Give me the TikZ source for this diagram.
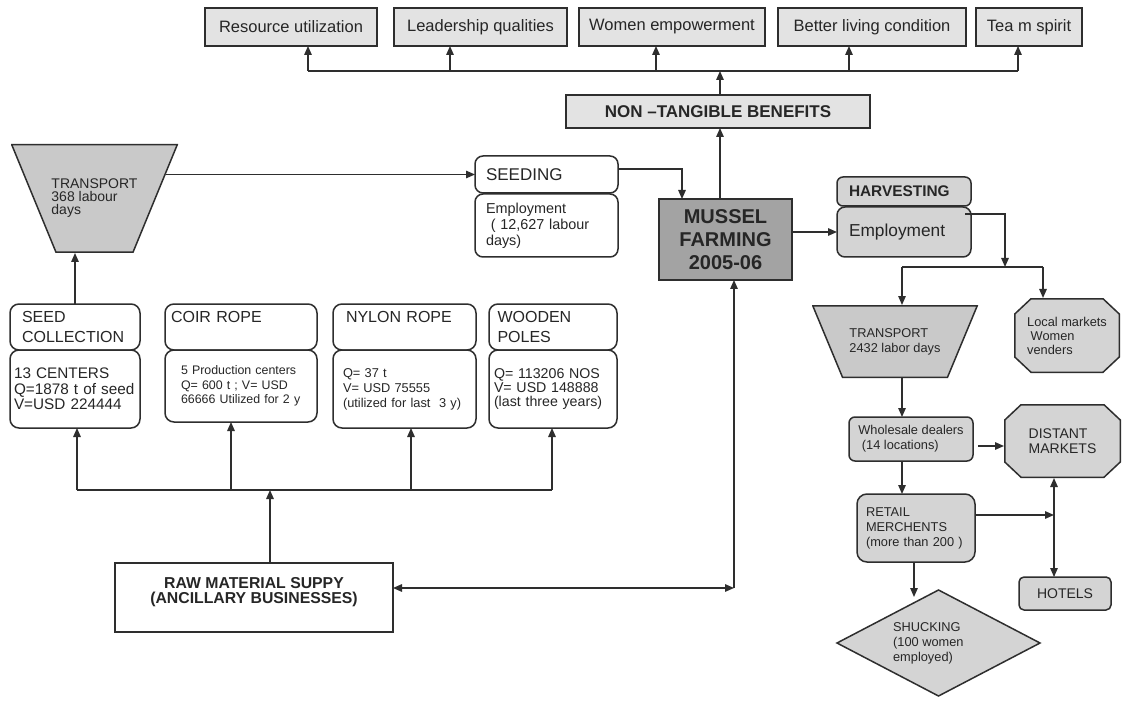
\documentclass[tikz,border=0pt]{standalone}
\usepackage{fontspec}
\setmainfont{Liberation Sans}
\usetikzlibrary{arrows.meta,shapes.geometric,positioning}

\definecolor{inkgray}{gray}{0.18}
\definecolor{lightfill}{gray}{0.89}
\definecolor{midfill}{gray}{0.83}
\definecolor{funnelfill}{gray}{0.79}
\definecolor{darkfill}{gray}{0.64}

\newcommand{\fsz}[2]{\fontsize{#1}{#2}\selectfont}

\begin{document}
\begin{tikzpicture}[
        x=1pt, y=-1pt, color=inkgray,
        >={Triangle[length=9pt,width=7.5pt]},
        every node/.style={draw=inkgray, line width=1.5pt, inner sep=0pt, outer sep=0pt, text=black!85},
        every path/.style={line width=1.4pt},
        benefit/.style={fill=lightfill, font=\fsz{16.5}{19}, minimum height=38pt},
        plainbox/.style={rounded corners=9pt, fill=white, align=left},
        grayround/.style={rounded corners=7pt, fill=midfill, align=left},
        funnel/.style={draw=none, fill=white, align=left, path picture={
            \draw[fill=funnelfill, line width=1.5pt]
              ([shift={(0.75pt,-0.75pt)}]path picture bounding box.north west) --
              ([shift={(-0.75pt,-0.75pt)}]path picture bounding box.north east) --
              ([shift={(-#1,0.75pt)}]path picture bounding box.south east) --
              ([shift={(#1,0.75pt)}]path picture bounding box.south west) -- cycle;}},
        market/.style={draw=none, fill=white, align=left, path picture={
            \draw[fill=midfill, line width=1.5pt]
              ([shift={(17pt,-0.75pt)}]path picture bounding box.north west) --
              ([shift={(-17pt,-0.75pt)}]path picture bounding box.north east) --
              ([shift={(-0.75pt,-16pt)}]path picture bounding box.north east) --
              ([shift={(-0.75pt,16pt)}]path picture bounding box.south east) --
              ([shift={(-17pt,0.75pt)}]path picture bounding box.south east) --
              ([shift={(17pt,0.75pt)}]path picture bounding box.south west) --
              ([shift={(0.75pt,16pt)}]path picture bounding box.south west) --
              ([shift={(0.75pt,-16pt)}]path picture bounding box.north west) -- cycle;}}
    ]

    \fill[white] (0,0) rectangle (1140,711);
    \useasboundingbox (0,0) rectangle (1140,711);

    % Benefits
    \node[benefit, minimum width=172pt] (resource) at (291,27) {Resource utilization};
    \node[benefit, minimum width=173pt] (leader) at (480.5,27) {Leadership qualities};
    \node[benefit, minimum width=186pt] (women) at (672,27) {Women empowerment};
    \node[benefit, minimum width=188pt] (living) at (872,27) {Better living condition};
    \node[benefit, minimum width=106pt] (team) at (1029,27) {Tea m spirit};
    \node[benefit, font=\bfseries\fsz{17}{20}, minimum width=304pt, minimum height=33pt] (nontb) at (718,111.5) {NON –TANGIBLE BENEFITS};

    % Farm
    \node[fill=darkfill, font=\bfseries\fsz{20}{23}, align=center, minimum width=133pt, minimum height=81pt] (mussel) at (725.5,239.5) {MUSSEL\\FARMING\\2005-06};

    \node[plainbox, rounded corners=8pt, font=\fsz{17}{19}, text width=121pt, minimum width=143pt, minimum height=37pt] (seedhd) at (546.5,174.5) {SEEDING};
    \node[plainbox, rounded corners=8pt, font=\fsz{14.4}{16}, text width=121pt, minimum width=143pt, minimum height=63pt] (seedemp) at (546.5,225.5) {Employment\\\ ( 12,627 labour\\days)};

    \node[grayround, rounded corners=6pt, font=\bfseries\fsz{15.4}{18}, text width=110pt, minimum width=134pt, minimum height=29pt] (harvhd) at (904,191.5) {HARVESTING};
    \node[grayround, rounded corners=8pt, font=\fsz{17.3}{20}, text width=110pt, minimum width=134pt, minimum height=50pt] (harvemp) at (904,232) {Employment};

    \node[funnel=45pt, font=\fsz{14}{13}, minimum width=167pt, minimum height=109pt] (transL) at (94.5,198.5) {TRANSPORT\\368 labour\\days};

    % Ancillary inputs
    \node[plainbox, font=\fsz{16}{20}, text width=106pt, minimum width=130pt, minimum height=46pt] (seedcol) at (75,327) {SEED\\COLLECTION};
    \node[plainbox, font=\fsz{16}{20}, text width=140pt, minimum width=152pt, minimum height=46pt] (coirhd) at (241,327) {COIR ROPE\\\mbox{}};
    \node[plainbox, font=\fsz{16}{20}, text width=117pt, minimum width=143pt, minimum height=46pt] (nylonhd) at (404.5,327) {NYLON ROPE\\\mbox{}};
    \node[plainbox, font=\fsz{16}{20}, text width=111pt, minimum width=128pt, minimum height=46pt] (woodhd) at (553,327) {WOODEN\\POLES};

    \node[plainbox, font=\fsz{15.3}{15.5}, text width=122pt, minimum width=130pt, minimum height=78pt] (seedinfo) at (75,389) {13 CENTERS\\Q=1878 t of seed\\V=USD 224444};
    \node[plainbox, font=\fsz{12.4}{14.5}, text width=120pt, minimum width=152pt, minimum height=72pt] (coirinfo) at (241,386) {5 Production centers\\Q= 600 t ; V= USD\\66666 Utilized for 2 y};
    \node[plainbox, font=\fsz{12.8}{15}, text width=123pt, minimum width=143pt, minimum height=78pt] (nyloninfo) at (404.5,389) {Q= 37 t\\V= USD 75555\\(utilized for last\ \ 3 y)};
    \node[plainbox, font=\fsz{14.2}{14}, text width=118pt, minimum width=128pt, minimum height=78pt] (woodinfo) at (553,389) {Q= 113206 NOS\\V= USD 148888\\(last three years)};

    \node[fill=white, font=\bfseries\fsz{15.8}{15}, align=center, minimum width=278pt, minimum height=69pt] (raw) at (254,597.5) {RAW MATERIAL SUPPY\\(ANCILLARY BUSINESSES)\\\mbox{}};

    % Marketing chain
    \node[funnel=30.5pt, font=\fsz{12.8}{15}, minimum width=166pt, minimum height=73pt] (transR) at (895,341.5) {TRANSPORT\\2432 labor days};
    \node[market, font=\fsz{12.8}{14}, minimum width=106pt, minimum height=75pt] (local) at (1067,335.5) {Local markets\\\ Women\\venders};
    \node[grayround, rounded corners=6pt, font=\fsz{12.8}{15}, minimum width=124pt, minimum height=44pt] (whole) at (911,439) {Wholesale dealers\\\ (14 locations)};
    \node[market, font=\fsz{14}{15}, minimum width=117pt, minimum height=74pt] (distant) at (1062.5,441) {DISTANT\\MARKETS};
    \node[grayround, rounded corners=10pt, font=\fsz{12.8}{15}, text width=100pt, minimum width=118pt, minimum height=68pt] (retail) at (916,528) {RETAIL\\MERCHENTS\\(more than 200 )};
    \node[grayround, rounded corners=5pt, font=\fsz{14}{16}, minimum width=92pt, minimum height=33pt] (hotels) at (1065,593.5) {HOTELS};
    \node[diamond, aspect=2, fill=midfill, align=left, font=\fsz{12.8}{15}, minimum width=203pt, minimum height=106pt] (shuck) at (938.5,643) {SHUCKING\\(100 women\\employed)\hspace*{31pt}};

    % Edges
    \coordinate (bus) at (720,71);
    \draw ([xshift=17pt]resource.south |- bus) -- ([xshift=-11pt]team.south |- bus);
    \draw[->] ([xshift=17pt]resource.south |- bus) -- ([xshift=17pt]resource.south);
    \draw[->] ([xshift=-30.5pt]leader.south |- bus) -- ([xshift=-30.5pt]leader.south);
    \draw[->] ([xshift=-16pt]women.south |- bus) -- ([xshift=-16pt]women.south);
    \draw[->] ([xshift=-23pt]living.south |- bus) -- ([xshift=-23pt]living.south);
    \draw[->] ([xshift=-11pt]team.south |- bus) -- ([xshift=-11pt]team.south);
    \draw[->] (bus |- nontb.north) -- (bus);
    \draw[->] (mussel.north -| bus) -- (nontb.south -| bus);

    \draw[->] ([xshift=71pt]transL.center |- seedhd.west) -- (seedhd.west);
    \draw[->] (seedcol.north) -- (seedcol.north |- transL.south);
    \draw[->] ([yshift=5.5pt]seedhd.east) -| ([xshift=-43.5pt]mussel.north);

    \coordinate (feed) at (270,490);
    \draw ([xshift=2pt]seedinfo.south |- feed) -- ([xshift=-1pt]woodinfo.south |- feed);
    \draw[->] ([xshift=16pt]raw.north) -- (feed);
    \draw[->] ([xshift=2pt]seedinfo.south |- feed) -- ([xshift=2pt]seedinfo.south);
    \draw[->] ([xshift=-10pt]coirinfo.south |- feed) -- ([xshift=-10pt]coirinfo.south);
    \draw[->] ([xshift=6.5pt]nyloninfo.south |- feed) -- ([xshift=6.5pt]nyloninfo.south);
    \draw[->] ([xshift=-1pt]woodinfo.south |- feed) -- ([xshift=-1pt]woodinfo.south);

    \coordinate (rawcorner) at (734,588);
    \draw[<->] ([yshift=9.5pt]raw.east) -- (rawcorner);
    \draw[->] (rawcorner) -- (rawcorner |- mussel.south);

    \draw[->] (mussel.east |- harvemp.west) -- (harvemp.west);
    \coordinate (split) at (1005,267);
    \draw[->] ([xshift=-6pt,yshift=18pt]harvemp.east) -| (split);
    \draw ([xshift=7pt]transR.north |- split) -- ([xshift=-24pt]local.north |- split);
    \draw[->] ([xshift=7pt]transR.north |- split) -- ([xshift=7pt]transR.north);
    \draw[->] ([xshift=-24pt]local.north |- split) -- ([xshift=-24pt]local.north);

    \draw[->] ([xshift=7pt]transR.south) -- ([xshift=7pt]transR.south |- whole.north);
    \draw[->, shorten <=5pt] ([yshift=-7pt]whole.east) -- ([yshift=-7pt]whole.east -| distant.west);
    \draw[->] ([xshift=-9pt]whole.south) -- ([xshift=-9pt]whole.south |- retail.north);

    \coordinate (hub) at (1054,515);
    \draw[->] ([yshift=13pt]retail.east) -- (hub);
    \draw[->] (hub) -- (hub |- distant.south);
    \draw[->] (hub) -- (hub |- hotels.north);
    \draw[->] ([xshift=-2pt]retail.south) -- ([xshift=-2pt,yshift=-7pt]retail.south |- shuck.north);

\end{tikzpicture}
\end{document}
